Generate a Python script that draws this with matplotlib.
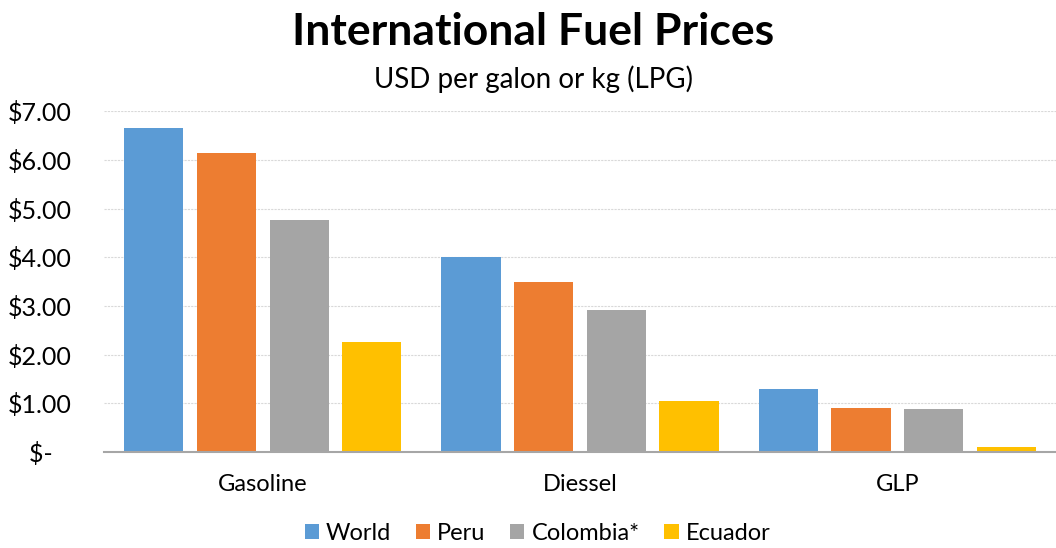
import matplotlib.pyplot as plt
import numpy as np

plt.rcParams['font.family'] = ['Lato', 'DejaVu Sans']

# -- data --
fuels = ["Gasoline", "Diessel", "GLP"]
countries = ["World", "Peru", "Colombia*", "Ecuador"]
world = [6.65, 4.00, 1.29]
peru = [6.14, 3.49, 0.90]
colombia = [4.76, 2.92, 0.88]
ecuador = [2.26, 1.05, 0.10]
colors = ["#5B9BD5", "#ED7D31", "#A5A5A5", "#FFC000"]
yticks = [0, 1, 2, 3, 4, 5, 6, 7]
ytick_labels = ["$-   ", "$1.00", "$2.00", "$3.00", "$4.00", "$5.00", "$6.00", "$7.00"]

fig = plt.figure(figsize=(10.56, 5.48), dpi=100)
ax = fig.add_axes([0.0985, 0.175, 0.9015, 0.622])

x = np.arange(len(fuels))
step = 0.229
width = 0.186
series = [world, peru, colombia, ecuador]
for i, (vals, name, c) in enumerate(zip(series, countries, colors)):
    ax.bar(x + (i - 1.5) * step, vals, width, color=c, label=name, zorder=3)

ax.set_xlim(-0.5, 2.5)
ax.set_ylim(0, 7)
ax.set_xticks(x)
ax.set_xticklabels(fuels, fontsize=17)
ax.set_yticks(yticks)
ax.set_yticklabels(ytick_labels, fontsize=18)
ax.tick_params(axis='both', length=0)
ax.tick_params(axis='x', pad=16)
ax.tick_params(axis='y', pad=23)

ax.grid(axis='y', color='#d9d9d9', linestyle=(0, (2, 1)), linewidth=0.8, zorder=0)
for s in ['top', 'right', 'left']:
    ax.spines[s].set_visible(False)
ax.spines['bottom'].set_color('#a6a6a6')
ax.spines['bottom'].set_linewidth(1.5)
ax.spines['bottom'].set_zorder(4)

fig.text(0.505, 0.942, "International Fuel Prices", ha='center', va='center',
         fontsize=32, fontweight='bold')
fig.text(0.505, 0.855, "USD per galon or kg (LPG)", ha='center', va='center', fontsize=20)

fig.legend(loc='center', bbox_to_anchor=(0.509, 0.026), ncol=4, frameon=False,
           fontsize=17, handlelength=0.6, handleheight=0.6, handletextpad=0.3,
           columnspacing=1.05)

plt.savefig("out.png", dpi=100)
